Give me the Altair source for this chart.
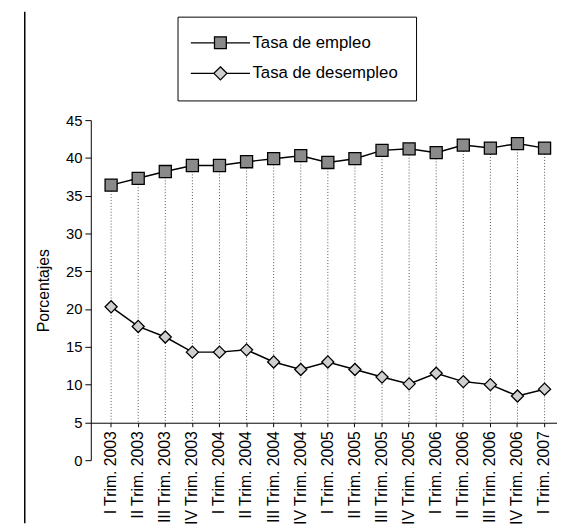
import altair as alt
import pandas as pd

trimestres = [
    "I Trim. 2003", "II Trim. 2003", "III Trim. 2003", "IV Trim. 2003",
    "I Trim. 2004", "II Trim. 2004", "III Trim. 2004", "IV Trim. 2004",
    "I Trim. 2005", "II Trim. 2005", "III Trim. 2005", "IV Trim. 2005",
    "I Trim. 2006", "II Trim. 2006", "III Trim. 2006", "IV Trim. 2006",
    "I Trim. 2007",
]
empleo = [36.4, 37.3, 38.2, 39.0, 39.0, 39.5, 39.9, 40.3, 39.4, 39.9,
          41.0, 41.2, 40.7, 41.7, 41.3, 41.9, 41.3]
desempleo = [20.3, 17.7, 16.3, 14.3, 14.3, 14.6, 13.0, 12.0, 13.0, 12.0,
             11.0, 10.1, 11.5, 10.4, 10.0, 8.5, 9.4]
series = ["Tasa de empleo", "Tasa de desempleo"]
y_ticks = [0, 5, 10, 15, 20, 25, 30, 35, 40, 45]

rows = []
for i, t in enumerate(trimestres):
    rows.append({"trimestre": t, "serie": series[0], "valor": empleo[i]})
    rows.append({"trimestre": t, "serie": series[1], "valor": desempleo[i]})
df = pd.DataFrame(rows)
df_emp = pd.DataFrame({"trimestre": trimestres, "valor": empleo})
df_des = pd.DataFrame({"trimestre": trimestres, "valor": desempleo})

FONT = "Liberation Sans"

x_enc = alt.X(
    "trimestre:N", sort=trimestres,
    scale=alt.Scale(range=[0, 481], padding=0.5),
    axis=alt.Axis(title=None, labelAngle=270, labelFontSize=16, labelFont=FONT,
                  labelColor="black", domainColor="black", tickColor="black",
                  tickSize=4, labelPadding=4, offset=-38, labelOverlap=False,
                  labelLimit=200),
)
y_scale = alt.Scale(domain=[0, 45], nice=False)
y_axis = alt.Axis(values=y_ticks, title="Porcentajes", grid=False,
                  labelFontSize=15, labelFont=FONT, labelColor="black",
                  titleFontSize=16, titleFont=FONT, titleFontWeight="normal",
                  titleColor="black", titlePadding=14,
                  domainColor="black", tickColor="black", tickSize=6,
                  labelPadding=3)
y_enc = alt.Y("valor:Q", scale=y_scale, axis=y_axis)

emp_path = "M-5,0H-1M1,0H5M-1,-1H1V1H-1Z"
des_path = "M-5,0H-1.1M1.1,0H5M0,-1.1L1.1,0L0,1.1L-1.1,0Z"
fills = ["#8a8a8a", "#cfcfcf"]

drops = alt.Chart(df_emp).mark_rule(
    color="#555555", strokeWidth=1, strokeDash=[1, 2]
).encode(x=x_enc, y=y_enc, y2=alt.datum(5))

lines = alt.Chart(df).mark_line(color="black", strokeWidth=1.5).encode(
    x=x_enc, y=y_enc, detail="serie:N",
)

leg = alt.Legend(
    title=None, orient="none", legendX=88, legendY=-105,
    strokeColor="black", padding=18, fillColor="white",
    symbolSize=144, symbolOffset=17, labelOffset=24,
    symbolStrokeWidth=1.3, symbolOpacity=1,
    labelFontSize=17, labelFont=FONT, labelColor="black",
    rowPadding=12)

legend_layer = alt.Chart(df).mark_point(
    filled=True, strokeWidth=1.3, size=0
).encode(
    x=x_enc, y=y_enc,
    shape=alt.Shape("serie:N", sort=series,
                    scale=alt.Scale(domain=series, range=[emp_path, des_path]),
                    legend=leg),
    fill=alt.Fill("serie:N", sort=series,
                  scale=alt.Scale(domain=series, range=fills), legend=leg),
    stroke=alt.Stroke("serie:N", sort=series,
                      scale=alt.Scale(domain=series, range=["black", "black"]),
                      legend=leg),
)

pts_emp = alt.Chart(df_emp).mark_point(
    shape="square", filled=True, fill=fills[0], stroke="black",
    strokeWidth=1.3, size=150, opacity=1
).encode(x=x_enc, y=y_enc)

pts_des = alt.Chart(df_des).mark_point(
    shape="diamond", filled=True, fill=fills[1], stroke="black",
    strokeWidth=1.3, size=150, opacity=1
).encode(x=x_enc, y=y_enc)

border = alt.Chart(alt.Data(values=[{}])).mark_rule(
    color="black", strokeWidth=1.5
).encode(x=alt.value(-67), y=alt.value(-110), y2=alt.value(409))

chart = alt.layer(border, drops, lines, legend_layer, pts_emp, pts_des).properties(
    width=473, height=345,
    autosize=alt.AutoSizeParams(type="none"),
    padding={"left": 84, "top": 110, "right": 0, "bottom": 64},
    background="white",
).configure_view(stroke=None)

chart.save("out.html", embed_options={"renderer": "svg", "actions": False})
